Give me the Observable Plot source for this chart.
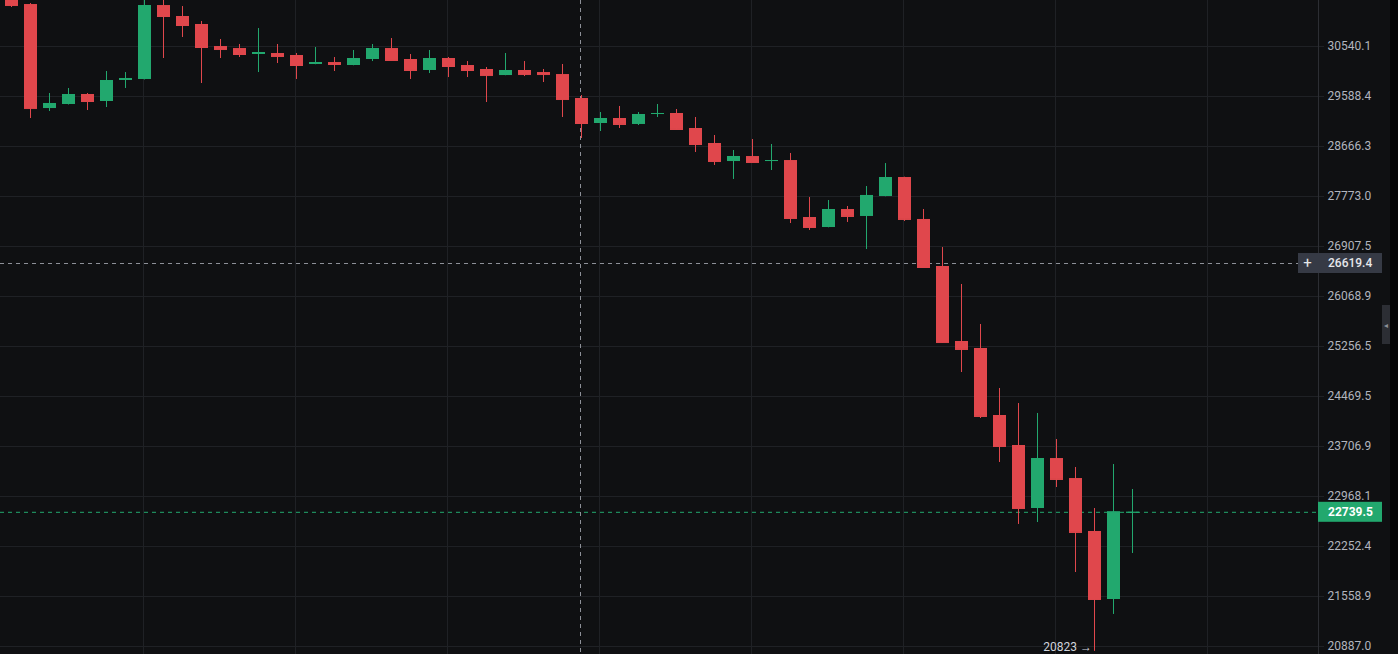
<!DOCTYPE html>
<html><head><meta charset="utf-8">
<script src="https://cdn.jsdelivr.net/npm/d3@7"></script>
<script src="https://cdn.jsdelivr.net/npm/@observablehq/plot@0.6"></script>
<style>
html,body{margin:0;padding:0;background:#0f1012;overflow:hidden;}
#chart{position:relative;width:1398px;height:654px;}
svg{display:block;}
</style></head><body><div id="chart"></div>
<script>
// OHLC values, one per candle (oldest first)
const opens  = [31843,31363,29364,29439,29626,29495,29890,29909,31343,31126,30969,30540,30501,30386,30405,30367,30194,30232,30175,30290,30501,30290,30080,30309,30175,30099,29984,30080,30041,30003,29551,29087,29179,29069,29253,29272,28995,28721,28395,28485,28395,28413,27406,27233,27545,27424,27773,28109,27372,26569,25337,25225,24177,23722,22794,23527,23231,22465,21518,22730];
const highs  = [31900,31383,29645,29739,29645,30061,30041,31542,31502,31323,31028,30676,30579,30890,30579,30405,30521,30328,30463,30579,30695,30386,30463,30328,30251,30137,30405,30251,30099,30194,29607,29290,29402,29290,29439,29346,29198,28867,28594,28794,28703,28540,27755,27703,27598,27949,28359,28115,27545,26890,26268,25611,24594,24361,24208,23812,23394,22794,23438,23070];
const lows   = [31304,29179,29309,29430,29327,29383,29739,29900,30309,30715,29833,30309,30328,30041,30213,29909,30190,30061,30170,30251,30265,29909,30022,29946,29946,29476,29980,29965,29852,29198,28812,28940,28995,29050,29198,28970,28558,28324,28074,28370,28234,27302,27182,27228,27320,26856,27768,27337,26545,25315,24844,24131,23468,22565,22593,23099,21889,20823,21315,22154];
const closes = [31343,29364,29458,29626,29495,29890,29928,31343,31126,30949,30521,30482,30386,30424,30347,30175,30232,30194,30309,30501,30271,30080,30309,30156,30080,29984,30080,30003,30003,29532,29087,29179,29069,29253,29272,28977,28703,28395,28485,28377,28413,27389,27233,27545,27424,27791,28109,27372,26552,25320,25209,24162,23707,22794,23527,23217,22451,21518,22745,22739.5];

// price axis tick labels
const yTicks = [30540.1,29588.4,28666.3,27773.0,26907.5,26068.9,25256.5,24469.5,23706.9,22968.1,22252.4,21558.9,20887.0];
// candle indices where the vertical time grid lines fall
const timeGridIdx = [7,15,23,31,39,47,55,63];
const crosshairIdx = [30];
const crosshairPrice = [26619.4];
const lastPrice = [22739.5];
const lowMarks = [{idx:57, price:20823, label:"20823 →"}];

const data = opens.map((o,i)=>({i, open:o, high:highs[i], low:lows[i], close:closes[i], up: closes[i] >= o}));

const UP = "#22a86e", DOWN = "#e0474c", BG = "#0f1012", GRID = "#1f2125";
const HW = 0.3421;
const XMAX = 68.763;

const plot = Plot.plot({
  width: 1398, height: 654,
  marginLeft: 0, marginRight: 80, marginTop: 0, marginBottom: 0,
  style: {background: BG, fontFamily: "Roboto, sans-serif", fontSize: "12px", color: "#b2b5be"},
  x: {type: "linear", domain: [-0.6053, XMAX], axis: null},
  y: {type: "log", domain: [20781.5, 31443], axis: null},
  marks: [
    Plot.ruleY(yTicks, {stroke: GRID}),
    Plot.ruleX(timeGridIdx, {stroke: GRID, dx: -1.5}),
    Plot.ruleX(crosshairIdx, {stroke: "#8d9098", strokeDasharray: "4 4", dx: -1.5}),
    Plot.ruleY(crosshairPrice, {stroke: "#8d9098", strokeDasharray: "4 4"}),
    Plot.ruleY(lastPrice, {stroke: UP, strokeDasharray: "4 4"}),
    Plot.ruleX(data, {x: "i", y1: "low", y2: "high", stroke: d => d.up ? UP : DOWN, dx: -0.5}),
    Plot.rect(data, {x1: d => d.i - HW, x2: d => d.i + HW, y1: "open", y2: "close", fill: d => d.up ? UP : DOWN}),
    Plot.ruleY(data, {y: "close", x1: d => d.i - HW, x2: d => d.i + HW, stroke: d => d.up ? UP : DOWN}),
    Plot.axisY({anchor: "right", ticks: yTicks, tickFormat: d => d.toFixed(1), tickSize: 5, tickPadding: 4, stroke: GRID, color: "#b2b5be", label: null, fontSize: 12}),
    Plot.ruleX([XMAX], {stroke: "#2c2e33"}),
    Plot.text(lowMarks, {x: "idx", y: "price", text: "label", textAnchor: "end", dx: -3, dy: -4, fill: "#d1d4dc", fontSize: 12})
  ]
});

document.getElementById("chart").appendChild(plot);

// price labels on the axis, positioned through the plot's own y scale
const ys = plot.scale("y");
const svg = d3.select(plot);
const g = svg.append("g").attr("font-family", "Roboto, sans-serif").attr("font-size", 12).attr("text-anchor", "start");

// right side strip and collapse tab
g.append("rect").attr("x", 1390).attr("y", 0).attr("width", 8).attr("height", 580).attr("fill", "#060607");
g.append("rect").attr("x", 1382).attr("y", 305).attr("width", 8).attr("height", 39).attr("fill", "#2c2e34");
g.append("text").attr("x", 1386).attr("y", 325).attr("text-anchor", "middle").attr("dy", "0.35em").attr("font-size", 8).attr("fill", "#8d9098").text("◂");

// crosshair price label
const cy = ys.apply(crosshairPrice[0]);
g.append("rect").attr("x", 1298).attr("y", cy - 10).attr("width", 84).attr("height", 20).attr("fill", "#363a45");
g.append("text").attr("x", 1307.5).attr("y", cy).attr("dy", "0.35em").attr("text-anchor", "middle").attr("font-size", 15).attr("fill", "#e6e7ea").text("+");
g.append("text").attr("x", 1328).attr("y", cy).attr("dy", "0.35em").attr("text-anchor", "start").attr("font-weight", 500).attr("fill", "#e6e7ea").text(crosshairPrice[0].toFixed(1));

// last price label
const ly = ys.apply(lastPrice[0]);
g.append("rect").attr("x", 1318).attr("y", ly - 10).attr("width", 64).attr("height", 20).attr("fill", UP);
g.append("text").attr("x", 1328).attr("y", ly).attr("dy", "0.35em").attr("text-anchor", "start").attr("font-weight", 700).attr("fill", "#ffffff").text(lastPrice[0].toFixed(1));
</script></body></html>
